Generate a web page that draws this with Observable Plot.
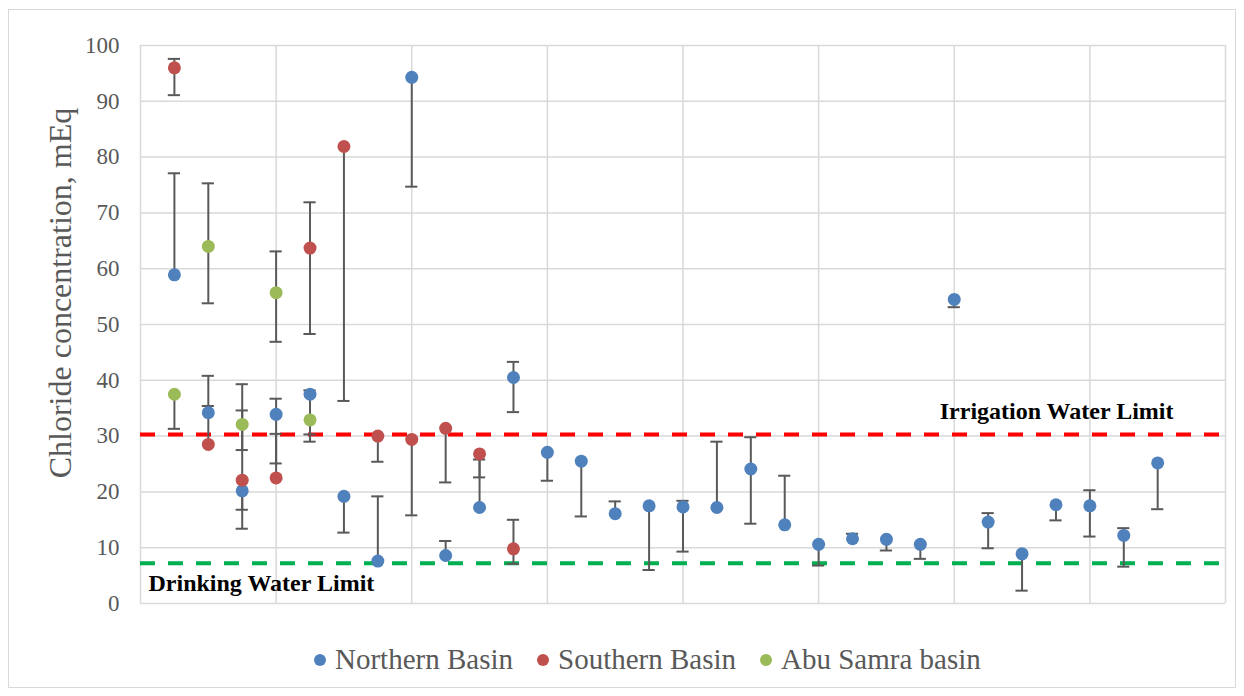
<!DOCTYPE html>
<html><head><meta charset="utf-8">
<script src="https://cdn.jsdelivr.net/npm/d3@7"></script>
<script src="https://cdn.jsdelivr.net/npm/@observablehq/plot@0.6"></script>
<style>
body{margin:0;background:#fff;}
#wrap{position:relative;width:1244px;height:696px;font-family:"Liberation Serif","Times New Roman",serif;overflow:hidden;}
#box{position:absolute;left:8px;top:9px;width:1228px;height:679px;border:1px solid #d9d9d9;box-sizing:border-box;}
#chart{position:absolute;left:0;top:0;}
#legend{position:absolute;top:640px;left:314px;display:flex;align-items:center;font-size:29px;line-height:38px;color:#595959;white-space:nowrap;}
.item{display:flex;align-items:center;margin-right:24px;}
.sw{width:12px;height:12px;border-radius:50%;margin-right:9px;margin-top:2px;}
</style></head>
<body><div id="wrap"><div id="box"></div><div id="chart"></div><div id="legend"></div></div>
<script>
// Series names and colours
const seriesNames = ["Northern Basin", "Southern Basin", "Abu Samra basin"];
const seriesColors = ["#4F81BD", "#C0504D", "#9BBB59"];
// [sample index, chloride value, lower error cap, upper error cap]
const northern = [
  [1,58.9,null,77.1],[2,34.2,null,40.8],[3,20.2,13.4,null],[4,33.9,25.1,36.7],[5,37.5,30.3,38.2],
  [6,19.2,12.7,null],[7,7.6,null,19.2],[8,94.3,74.7,null],[9,8.6,null,11.2],[10,17.2,null,25.8],
  [11,40.5,34.3,43.3],[12,27.1,22.0,null],[13,25.5,15.6,null],[14,16.1,null,18.3],[15,17.5,6.0,null],
  [16,17.3,9.3,18.4],[17,17.2,null,29.0],[18,24.1,14.3,29.8],[19,14.1,null,22.9],[20,10.6,6.8,null],
  [21,11.6,null,12.5],[22,11.5,9.5,null],[23,10.6,8.0,null],[24,54.5,53.1,null],[25,14.6,9.9,16.2],
  [26,8.9,2.3,null],[27,17.7,14.9,null],[28,17.5,12.0,20.3],[29,12.2,6.6,13.5],[30,25.2,16.9,null]
];
const southern = [
  [1,96.0,91.1,97.6],[2,28.5,null,35.4],[3,22.1,16.8,34.6],[4,22.5,null,30.4],[5,63.7,48.3,71.9],
  [6,81.9,36.3,null],[7,30.0,25.4,null],[8,29.4,15.8,null],[9,31.4,21.7,null],[10,26.8,22.6,null],
  [11,9.8,7.1,15.0]
];
const abuSamra = [
  [1,37.5,31.3,null],[2,64.0,53.8,75.3],[3,32.1,27.5,39.3],[4,55.7,46.9,63.1],[5,32.9,29.0,null]
];
const yTicks = [0,10,20,30,40,50,60,70,80,90,100];
const xGrid = [0,4,8,12,16,20,24,28,32];
const limits = [
  {name:"Irrigation Water Limit", value:30.3, color:"#FF0000"},
  {name:"Drinking Water Limit", value:7.2, color:"#00B050"}
];
const yLabel = "Chloride concentration, mEq";

const rows = [];
[northern, southern, abuSamra].forEach((arr, k) =>
  arr.forEach(([i, v, lo, hi]) => rows.push({series: seriesNames[k], i, v, lo, hi})));
const caps = rows.flatMap(d => [d.lo, d.hi].filter(c => c != null).map(c => ({i: d.i, c})));
const capHalf = 0.18;

const plot = Plot.plot({
  width: 1244, height: 630,
  marginLeft: 140, marginRight: 19, marginTop: 45, marginBottom: 27,
  style: {fontFamily: "'Liberation Serif','Times New Roman',serif", fontSize: "23px", color: "#595959", background: "transparent"},
  x: {domain: [0, 32], axis: null},
  y: {domain: [0, 100], axis: null},
  color: {domain: seriesNames, range: seriesColors},
  marks: [
    Plot.gridX(xGrid, {stroke: "#d9d9d9", strokeOpacity: 1, strokeWidth: 1.5}),
    Plot.gridY(yTicks, {stroke: "#d9d9d9", strokeOpacity: 1, strokeWidth: 1.5}),
    Plot.axisY({ticks: yTicks, tickSize: 0, tickPadding: 21, label: null, fontSize: 23, fill: "#595959"}),
    Plot.ruleY(limits, {y: "value", stroke: "color", strokeWidth: 4, strokeDasharray: "15,13"}),
    Plot.ruleX(rows, {x: "i", y1: d => d.lo ?? d.v, y2: d => d.hi ?? d.v, stroke: "#595959", strokeWidth: 2}),
    Plot.ruleY(caps, {y: "c", x1: d => d.i - capHalf, x2: d => d.i + capHalf, stroke: "#595959", strokeWidth: 2}),
    Plot.dot(rows, {x: "i", y: "v", fill: "series", r: 6.5, stroke: "none"}),
    Plot.text(limits.slice(0,1), {y: "value", text: "name", frameAnchor: "right", dx: -52, dy: -15, textAnchor: "end", lineAnchor: "bottom", fontWeight: "bold", fontSize: 24, fill: "black"}),
    Plot.text(limits.slice(1), {y: "value", text: "name", frameAnchor: "left", dx: 8, dy: 28, textAnchor: "start", lineAnchor: "bottom", fontWeight: "bold", fontSize: 24, fill: "black"})
  ]
});
document.getElementById("chart").appendChild(plot);

d3.select(plot).append("text")
  .attr("transform", "translate(71,293) rotate(-90)")
  .attr("text-anchor", "middle")
  .attr("font-size", 32)
  .attr("fill", "#595959")
  .text(yLabel);

const leg = d3.select("#legend");
seriesNames.forEach((n, k) => {
  const it = leg.append("div").attr("class", "item");
  it.append("div").attr("class", "sw").style("background", seriesColors[k]);
  it.append("span").text(n);
});
</script></body></html>
